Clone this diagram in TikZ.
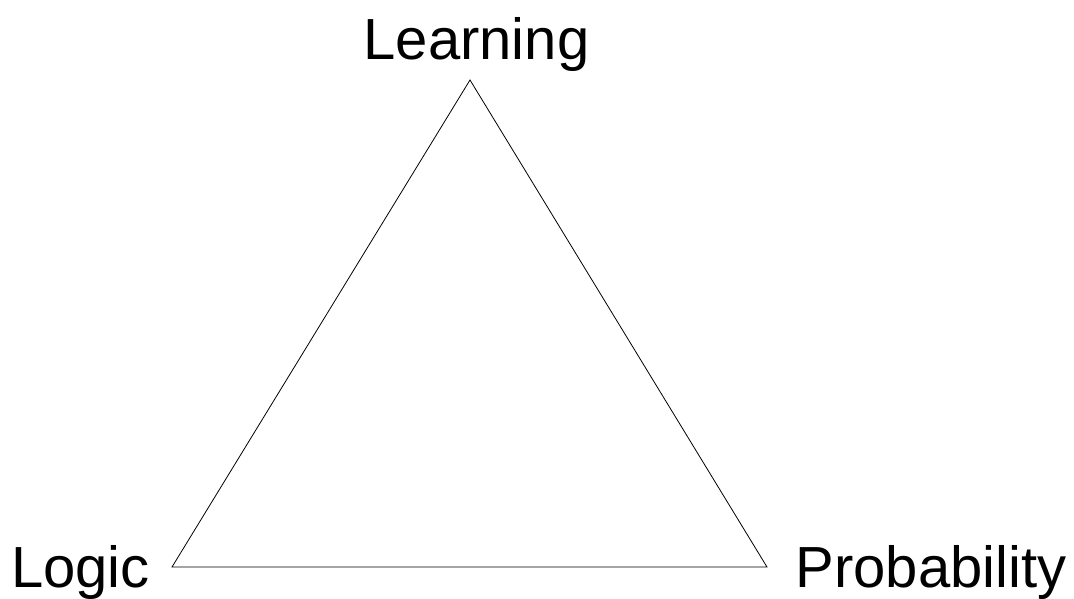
\documentclass[tikz,border=0pt]{standalone}
\usepackage{fontspec}
\setmainfont{Liberation Sans}
\usepackage{tikz}

\begin{document}
\begin{tikzpicture}[x=1pt, y=-1pt,
    lbl/.style={font=\fontsize{58}{70}\selectfont, inner sep=0pt, anchor=base}]
    \useasboundingbox (0,0) rectangle (1074,599);

    % corners of the triangle
    \coordinate (top) at (470,80);
    \coordinate (left) at (172,567);
    \coordinate (right) at (767,567);

    \draw[line width=0.8pt, line join=miter] (left) -- (top) -- (right) -- cycle;

    \node[lbl] (learning) at (476.5,60) {Learning};
    \node[lbl] (logic) at (80.5,587) {Logic};
    \node[lbl] (probability) at (931,587) {Probability};

\end{tikzpicture}
\end{document}
